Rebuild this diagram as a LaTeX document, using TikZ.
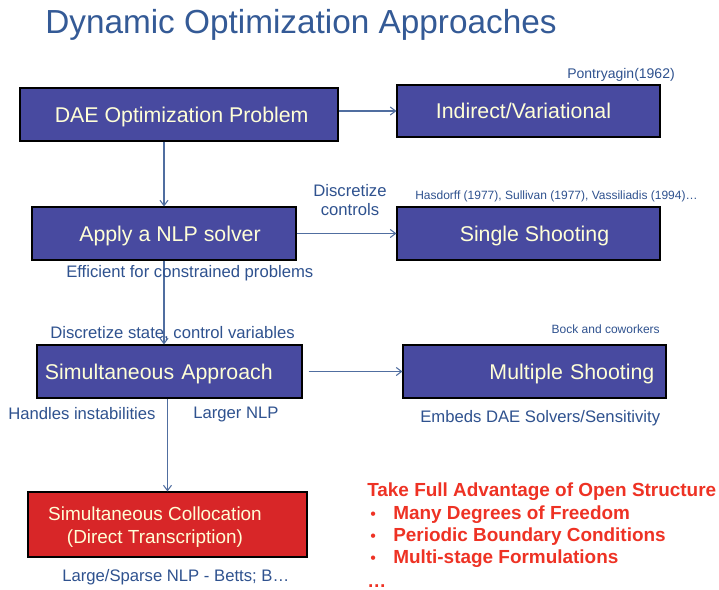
\documentclass[tikz,border=0pt]{standalone}
\usepackage{fontspec}
\setmainfont{Liberation Sans}
\usetikzlibrary{arrows.meta}
\definecolor{boxblue}{RGB}{72,74,160}
\definecolor{boxred}{RGB}{216,38,40}
\definecolor{cream}{RGB}{255,255,215}
\definecolor{lblue}{RGB}{47,82,143}
\definecolor{ttl}{RGB}{52,90,150}
\definecolor{arrowc}{RGB}{80,110,160}
\definecolor{redtxt}{RGB}{238,50,36}
\begin{document}
\begin{tikzpicture}[x=0.75pt,y=-0.75pt,
  box/.style={draw=black, line width=0.8pt, fill=boxblue, text=cream, font=\fontsize{16}{19}\selectfont, inner sep=0pt, text depth=0pt},
  lbl/.style={text=lblue, font=\fontsize{12.5}{14.25}\selectfont, inner sep=0pt, text depth=0pt},
  smalllbl/.style={text=lblue, font=\fontsize{9}{11}\selectfont, inner sep=0pt, text depth=0pt},
  arr/.style={draw=arrowc, line width=0.8pt, -{Straight Barb[length=4pt,width=6pt]}},
  redt/.style={text=redtxt, font=\bfseries\fontsize{14.2}{17}\selectfont, inner sep=0pt, anchor=west, text depth=0pt},
  bul/.style={text=redtxt, font=\fontsize{12}{14}\selectfont, inner sep=0pt, anchor=base west}]
\useasboundingbox (0,0) rectangle (719,590);
\fill[white] (0,0) rectangle (719,590);

% title
\node[anchor=west, inner sep=0pt, text depth=0pt, text=ttl, font=\fontsize{25}{30}\selectfont] (title) at (45,21) {Dynamic Optimization Approaches};

% boxes
\node[box, minimum width={318*0.75pt}, minimum height={53*0.75pt}] (dae) at (179,114.5) {\hspace*{4pt}DAE Optimization Problem};
\node[box, minimum width={263*0.75pt}, minimum height={52*0.75pt}] (ind) at (528.5,111) {Indirect/Variational\hspace*{7.5pt}};
\node[box, minimum width={264*0.75pt}, minimum height={53*0.75pt}] (nlp) at (164,233.5) {\hspace*{9pt}Apply a NLP solver};
\node[box, minimum width={263*0.75pt}, minimum height={53*0.75pt}] (single) at (528.5,233.5) {\hspace*{9pt}Single Shooting};
\node[box, minimum width={265*0.75pt}, minimum height={53*0.75pt}, text width={249*0.75pt}, align=left] (simult) at (169.5,371.5) {Simultaneous Approach};
\node[box, minimum width={263*0.75pt}, minimum height={53*0.75pt}, text width={245*0.75pt}, align=right] (multi) at (534.5,371.5) {Multiple Shooting\hspace*{2pt}};
\node[box, fill=boxred, minimum width={279*0.75pt}, minimum height={65*0.75pt}] (coll) at (167.5,524.5) {};
\node[inner sep=0pt, text depth=0pt, text=cream, align=center, font=\fontsize{14.2}{17.25}\selectfont] (colltxt) at (155,525) {Simultaneous Collocation\\(Direct Transcription)};

% connectors
\draw[arr] (dae.east |- ind.west) -- (ind.west);
\draw[arr] (nlp.north |- dae.south) -- (nlp.north);
\draw[arr] (nlp.east) -- (single.west);
\draw[arr] (nlp.south) -- (nlp.south |- simult.north);
\draw[arr] ([xshift=4.5pt]simult.east) -- (multi.west);
\draw[arr] (coll.north |- simult.south) -- (coll.north);

% labels
\node[smalllbl, anchor=east, font=\fontsize{10.5}{12}\selectfont] (pont) at (675,73) {Pontryagin(1962)};
\node[lbl, align=center] (disc) at (350,200) {Discretize\\controls};
\node[smalllbl, anchor=west] (hasd) at (415,195) {Hasdorff (1977), Sullivan (1977), Vassiliadis (1994)…};
\node[lbl, anchor=west] (eff) at (66,271) {Efficient for constrained problems};
\node[lbl, anchor=west] (dsc) at (50,332) {Discretize state, control variables};
\node[smalllbl, anchor=east] (bock) at (660,329) {Bock and coworkers};
\node[lbl, anchor=west] (hand) at (8,413) {Handles instabilities};
\node[lbl, anchor=west] (larger) at (193,413) {Larger NLP};
\node[lbl, anchor=west] (emb) at (420,416) {Embeds DAE Solvers/Sensitivity};
\node[lbl, anchor=west] (large) at (62,575) {Large/Sparse NLP - Betts; B…};

% red list
\node[redt] (r0) at (367,490) {Take Full Advantage of Open Structure};
\node[redt] (r1) at (393,513) {Many Degrees of Freedom};
\node[redt] (r2) at (393,535) {Periodic Boundary Conditions};
\node[redt] (r3) at (393,557) {Multi-stage Formulations};
\node[bul] (b1) at ([xshift=-17.25pt]r1.base west) {•};
\node[bul] (b2) at ([xshift=-17.25pt]r2.base west) {•};
\node[bul] (b3) at ([xshift=-17.25pt]r3.base west) {•};
\node[redt, anchor=base west] (r4) at (367,587) {…};
\end{tikzpicture}
\end{document}
